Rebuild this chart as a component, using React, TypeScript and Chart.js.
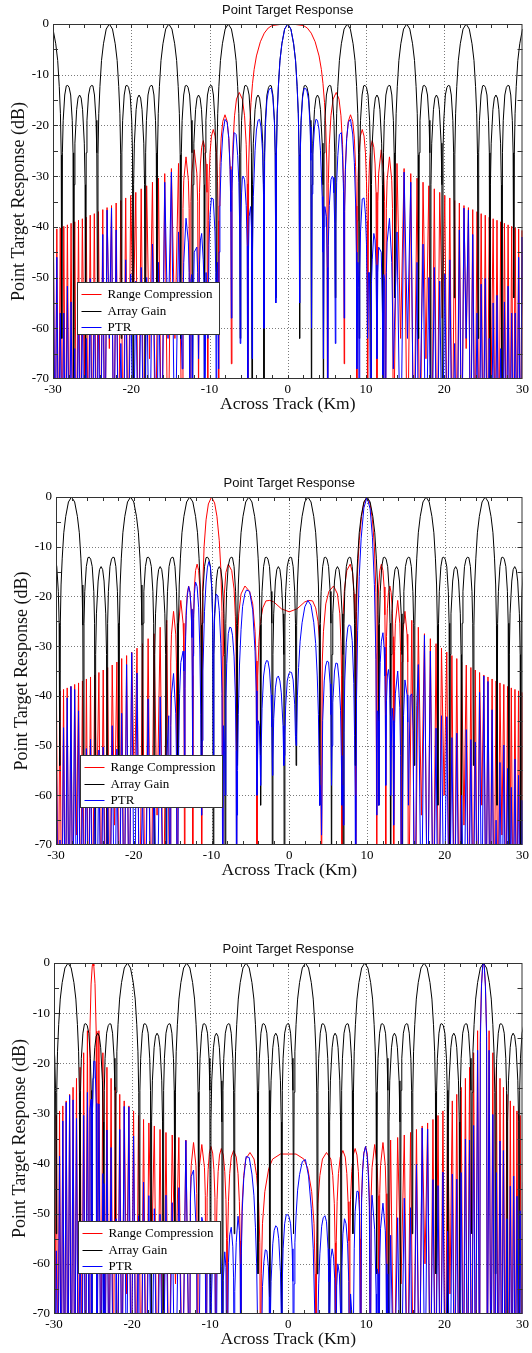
import React, { useEffect, useRef } from "react";
import { Chart, registerables } from "chart.js";

Chart.register(...registerables);

// ---------- text ----------
const chartTitle = "Point Target Response";
const xTitle = "Across Track (Km)";
const yTitle = "Point Target Response (dB)";
const seriesNames = ["Range Compression", "Array Gain", "PTR"];
const seriesColors = ["#ff0000", "#000000", "#0000ff"];

// ---------- axes ----------
const xTicks = [-30, -20, -10, 0, 10, 20, 30];
const yTicks = [0, -10, -20, -30, -40, -50, -60, -70];
const xGrid = [-20, -10, 0, 10, 20];
const yGrid = [-10, -20, -30, -40, -50, -60];
const xMinor = [-28, -26, -24, -22, -20, -18, -16, -14, -12, -10, -8, -6, -4, -2, 0, 2, 4, 6, 8, 10, 12, 14, 16, 18, 20, 22, 24, 26, 28];
const yMinor = [-5, -10, -15, -20, -25, -30, -35, -40, -45, -50, -55, -60, -65];

// deep null (below the axis floor)
const N = -90;

// ---------- Array Gain: one grating-lobe period (offset km, dB) ----------
const agPeriod = [
  [0, 0], [0.4, -1], [0.75, -3.9], [1.0, -7.2], [1.2, -12.3], [1.35, -17.7], [1.45, -25.8], [1.52, -62],
  [1.6, -25.4], [1.7, -19], [1.9, -14], [2.1, -12.2], [2.28, -12.1], [2.46, -12.5], [2.66, -14], [2.86, -19], [2.96, -25.4], [3.04, N],
  [3.1, -31.7], [3.2, -23.5], [3.42, -16.9], [3.6, -14.6], [3.8, -14], [4.0, -14.6], [4.18, -16.9], [4.4, -23.5], [4.5, -31.7], [4.56, N],
  [4.64, -25.4], [4.74, -19], [4.94, -14], [5.14, -12.5], [5.32, -12.1], [5.5, -12.2], [5.7, -14], [5.9, -19], [6.0, -25.4], [6.08, -54],
  [6.15, -25.8], [6.25, -17.7], [6.4, -12.3], [6.6, -7.2], [6.85, -3.9], [7.2, -1],
];
// grating-lobe peak positions (km) in each panel
const agLobes1 = [-38, -30.4, -22.8, -15.2, -7.6, 0, 7.6, 15.2, 22.8, 30.4];
const agLobes2 = [-35.6, -28, -20.4, -12.8, -5.2, 2.4, 10, 17.6, 25.2, 32.8];
const agLobes3 = [-35.8, -28.2, -20.6, -13, -5.4, 2.2, 9.8, 17.4, 25, 32.6];

// ---------- Panel 1: target at 0 km (symmetric, x >= 0 half) ----------
const rc1Half = [
  [0, 0], [1, -0.1], [2, -0.3], [2.5, -0.8], [3, -1.8], [3.5, -3.5], [4, -6.3], [4.3, -9], [4.5, -11.7], [4.7, -15.5], [4.85, -20], [5.0, -28], [5.1, N],
  [5.18, -31.5], [5.31, -23.7], [5.52, -18.1], [5.8, -14.8], [6.2, -13.5], [6.55, -14.8], [6.8, -18.1], [7.0, -23.7], [7.13, -31.5], [7.21, -67],
  [7.27, -35.9], [7.37, -28.1], [7.53, -22.5], [7.74, -19.2], [8.02, -17.9], [8.3, -19.2], [8.51, -22.5], [8.67, -28.1], [8.77, -35.9], [8.83, N],
  [8.88, -38.8], [8.97, -31], [9.1, -25.4], [9.28, -22.1], [9.52, -20.8], [9.75, -22.1], [9.93, -25.4], [10.06, -31], [10.15, -38.8], [10.2, N],
  [10.32, -33.2], [10.44, -27.6], [10.6, -24.3], [10.8, -23], [11.0, -24.3], [11.16, -27.6], [11.28, -33.2], [11.4, -75],
  [11.51, -35], [11.62, -29.4], [11.95, -24.8], [12.27, -29.4], [12.38, -35], [12.49, N],
  [12.6, -36.4], [12.7, -30.8], [13.0, -26.2], [13.29, -30.8], [13.39, -36.4], [13.49, N],
  [13.96, -27.5], [14.42, -62], [14.87, -28.5], [15.3, N], [15.72, -29.5], [16.12, N], [16.52, -30.4], [16.91, N],
  [17.29, -31.2], [17.66, -66], [18.03, -31.9], [18.38, N], [18.73, -32.5], [19.08, N], [19.42, -33.2], [19.75, -58],
  [20.07, -33.8], [20.4, N], [20.71, -34.3], [21.02, N], [21.33, -34.8], [21.63, N], [21.93, -35.3], [22.23, N],
  [22.52, -35.8], [22.8, -64], [23.09, -36.2], [23.37, N], [23.64, -36.6], [23.92, N], [24.19, -37], [24.45, N],
  [24.72, -37.4], [24.98, N], [25.24, -37.7], [25.5, N], [25.75, -38.1], [26.0, -70], [26.25, -38.4], [26.5, N],
  [26.74, -38.7], [26.98, N], [27.22, -39], [27.46, N], [27.69, -39.3], [27.93, N], [28.16, -39.6], [28.39, N],
  [28.62, -39.9], [28.84, N], [29.07, -40.2], [29.29, N], [29.51, -40.4], [29.73, N], [29.95, -40.7], [30.17, N], [30.38, -41],
];
const pt1Half = [
  [0, 0], [0.4, -1], [0.75, -3.9], [1.0, -7.3], [1.2, -12.4], [1.35, -17.8], [1.45, -26], [1.52, -55],
  [1.6, -25.8], [1.7, -19.5], [1.9, -14.5], [2.1, -12.7], [2.28, -12.7], [2.46, -13.2], [2.66, -15], [2.86, -20.3], [2.96, -26.9], [3.04, -60],
  [3.1, -33.5], [3.2, -25.7], [3.42, -20.3], [3.6, -18.8], [3.8, -19], [4.0, -20.9], [4.18, -25], [4.4, -34], [4.5, -45], [4.56, -66],
  [4.64, -40], [4.74, -36], [4.94, -38], [5.05, -48], [5.1, N], [5.18, -43.7], [5.31, -35.8], [5.52, -30.7], [5.7, -30], [5.8, -30.3], [5.9, -33.3], [6.0, -39.4], [6.08, -63],
  [6.15, -39.4], [6.25, -31.2], [6.4, -25.9], [6.6, -21.8], [6.85, -21.4], [7.0, -26], [7.13, -33], [7.21, -58],
  [7.27, -37], [7.37, -28.7], [7.53, -22.6], [7.74, -19.4], [8.02, -18.8], [8.3, -21.7], [8.51, -27.3], [8.67, -35.3], [8.77, -45], [8.83, -68],
  [8.97, -47], [9.07, -52], [9.12, N],
  [9.2, -49], [9.3, -41], [9.52, -34.5], [9.75, -34.3], [9.93, -37.5], [10.06, -43.4], [10.2, -62], [10.32, -49], [10.44, -49], [10.64, N],
  [10.7, -51], [10.8, -46.5], [11.0, -41.3], [11.16, -42.6], [11.28, -47.5], [11.4, -66], [11.51, -49], [11.62, -44], [11.95, -45], [12.1, -57], [12.16, -70],
  [12.27, -49.4], [12.38, -50.5], [12.49, N], [12.6, -49], [12.7, -43], [13.0, -38.3], [13.29, -47], [13.39, -56], [13.49, -68],
  [13.96, -41], [14.42, N], [14.87, -29.2], [15.3, -62], [15.72, -31.2], [16.12, N], [16.52, -47], [16.72, N],
  [17.29, -43.4], [17.66, N], [18.03, -50], [18.38, N], [18.73, -48], [19.08, N], [19.42, -50.7], [19.75, N],
  [20.07, -49.3], [20.4, N], [20.71, -46.5], [21.02, N], [21.33, -63], [21.63, N], [21.93, -40.6], [22.23, N],
  [22.52, -36.3], [22.8, -62], [23.09, -36.7], [23.37, N], [23.64, -41.5], [23.92, N], [24.19, -57], [24.45, N],
  [24.72, -51.3], [24.98, N], [25.24, -50.2], [25.5, N], [25.75, -62], [26.0, N], [26.25, -55], [26.5, N],
  [26.74, -53.5], [26.98, N], [27.22, -64], [27.46, N], [27.69, -54.8], [27.93, N], [28.16, -51.7], [28.39, N],
  [28.62, -57], [28.84, N], [29.07, -57], [29.29, N], [29.51, -46], [29.73, N], [29.95, -42], [30.17, -62], [30.38, -41],
];

// ---------- Panel 2: target at 10 km (range compression symmetric about 0) ----------
const rc2Half = [
  [0, -23.1], [1, -22.5], [2, -21.1], [2.5, -20.8], [3, -20.9], [3.4, -22.3], [3.7, -25], [3.9, -29], [4.05, -36], [4.15, N],
  [4.25, -33], [4.4, -27], [4.7, -21.5], [5.1, -19], [5.7, -17.9], [6.2, -19.5], [6.5, -23.5], [6.65, -29], [6.73, -36], [6.78, N],
  [6.84, -31], [6.93, -24], [7.1, -18.5], [7.4, -14.8], [7.84, -13.5], [8.15, -15.2], [8.35, -19.5], [8.45, -24.5], [8.51, -32], [8.54, N],
  [8.65, -23], [8.8, -14.5], [9.0, -8.8], [9.3, -3.9], [9.6, -1.2], [10, 0], [10.4, -1.4], [10.7, -4.6], [10.95, -9.9], [11.15, -19.2], [11.27, N],
  [11.32, -31.5], [11.38, -23.7], [11.5, -18.1], [11.65, -14.8], [11.85, -13.5], [12.05, -14.8], [12.2, -18.1], [12.3, -23.7], [12.36, -31.5], [12.41, N],
  [12.45, -35.9], [12.51, -28.1], [12.62, -22.5], [12.76, -19.2], [12.94, -17.9], [13.1, -19.2], [13.25, -22.5], [13.35, -28.1], [13.41, -35.9], [13.45, N],
  [13.55, -31], [13.65, -25.4], [13.95, -20.8], [14.22, -25.4], [14.32, -31], [14.42, N],
  [14.51, -33.2], [14.6, -27.6], [14.88, -23], [15.15, -27.6], [15.24, -33.2], [15.33, N],
  [15.76, -24.8], [16.19, N], [16.6, -26.2], [17.0, -64], [17.39, -27.5], [17.78, N], [18.15, -28.5], [18.52, N],
  [18.88, -29.5], [19.24, N], [19.58, -30.4], [19.92, -60], [20.26, -31.2], [20.59, N], [20.92, -31.9], [21.24, N],
  [21.55, -32.5], [21.86, N], [22.17, -33.2], [22.47, -66], [22.77, -33.8], [23.07, N], [23.36, -34.3], [23.64, N],
  [23.93, -34.8], [24.21, N], [24.48, -35.3], [24.76, -62], [25.03, -35.8], [25.3, N], [25.56, -36.2], [25.83, N],
  [26.09, -36.6], [26.34, N], [26.6, -37], [26.85, N], [27.1, -37.4], [27.35, -68], [27.6, -37.7], [27.84, N],
  [28.08, -38.1], [28.32, N], [28.56, -38.4], [28.79, N], [29.03, -38.7], [29.26, N], [29.49, -39], [29.72, N], [29.94, -39.3], [30.17, N], [30.39, -39.6],
];
const pt2Pos = [
  [0.12, -35.2], [0.3, -35.3], [0.5, -36.8], [0.7, -41.8], [0.8, -48.2], [0.88, -50],
  [0.95, -48], [1.05, -40], [1.2, -34.3], [1.4, -29], [1.65, -25.3], [2.0, -22.1], [2.4, -20.8], [2.8, -21.8], [3.15, -25.2], [3.4, -29.5], [3.6, -36], [3.75, -43.7], [3.85, -54], [3.92, -62],
  [3.98, -58], [4.1, -62], [4.15, -68], [4.3, -45], [4.5, -37], [4.68, -34], [4.86, -33], [5.06, -33.2], [5.26, -37.6], [5.36, -43.8], [5.44, -58],
  [5.5, -50], [5.6, -41.4], [5.82, -35], [6.0, -33.4], [6.2, -33.5], [6.4, -36.6], [6.6, -43], [6.7, -52], [6.78, -62], [6.9, -58], [6.96, -66],
  [7.04, -47.4], [7.14, -37], [7.34, -29.2], [7.54, -26.2], [7.72, -25.7], [7.9, -26], [8.1, -28.9], [8.3, -37.5], [8.4, -48], [8.48, -60],
  [8.54, N], [8.65, -40.7], [8.8, -26.8], [9.0, -16], [9.25, -8.3], [9.6, -2.2], [10, 0], [10.4, -2.4], [10.7, -8.1], [10.95, -17.6], [11.15, -32.7], [11.27, -64],
  [11.32, -48], [11.38, -43], [11.45, -45], [11.52, -62],
  [11.6, -41], [11.7, -33.3], [11.85, -29], [12.05, -27.3], [12.2, -30.2], [12.3, -36], [12.36, -43.8], [12.41, -58],
  [12.51, -41], [12.62, -36], [12.76, -34.7], [12.9, -37], [13.0, -44], [13.04, -60],
  [13.1, -51], [13.25, -42.5], [13.35, -45], [13.41, -52], [13.45, -66],
  [13.55, -45.6], [13.65, -39.6], [13.95, -35], [14.22, -42.4], [14.32, -52], [14.42, N],
  [14.6, -55.6], [14.7, -44], [14.88, -36.8], [15.15, -39.8], [15.24, -45.3], [15.33, -62],
  [15.55, -40], [15.76, -39.6], [15.95, -47], [16.08, N], [16.19, N],
  [16.4, -42], [16.6, -33.7], [17.0, N], [17.39, -27.8], [17.78, N], [18.15, -31], [18.52, N], [18.88, -46.5], [19.12, N],
  [19.24, N], [19.58, -44], [19.92, N], [20.26, -44.2], [20.59, N], [20.92, -48.4], [21.24, N], [21.55, -47.5], [21.86, N],
  [22.17, -60], [22.47, N], [22.77, -46.8], [23.07, N], [23.36, -48.8], [23.64, N], [23.93, -49.3], [24.21, N],
  [24.48, -39.3], [24.76, N], [25.03, -36], [25.3, N], [25.56, -37.1], [25.83, N], [26.09, -42.8], [26.34, N],
  [26.6, -65], [26.85, N], [27.1, -53.4], [27.35, N], [27.6, -49.9], [27.84, N], [28.08, -54.6], [28.32, N],
  [28.56, -58.4], [28.79, N], [29.03, -52.7], [29.26, N], [29.49, -56], [29.72, N], [29.94, -61], [30.17, N], [30.39, -60],
];
const pt2Neg = [
  [-0.06, -35.6], [-0.26, -37], [-0.46, -42], [-0.56, -48], [-0.64, -52],
  [-0.7, -54], [-0.8, -46], [-1.02, -39.4], [-1.2, -37], [-1.4, -36], [-1.6, -36.4], [-1.78, -38.4], [-2.0, -44.6], [-2.1, -52.7], [-2.16, -56],
  [-2.24, -46.3], [-2.34, -39.8], [-2.54, -34.8], [-2.74, -33], [-2.92, -32.9], [-3.1, -33.7], [-3.3, -36], [-3.5, -42.5], [-3.6, -50.4], [-3.68, -58],
  [-3.75, -52], [-3.85, -46], [-4.0, -45], [-4.15, -60], [-4.25, -39], [-4.4, -31], [-4.7, -22.7], [-5.1, -19], [-5.5, -18.7], [-5.7, -19.4],
  [-6.0, -22], [-6.2, -26.7], [-6.4, -33.8], [-6.55, -43.7], [-6.65, -55], [-6.72, -64],
  [-6.78, N], [-6.84, -51], [-6.93, -40], [-7.1, -32], [-7.3, -27.8], [-7.48, -26.3], [-7.66, -26.2], [-7.84, -27.5], [-8.04, -33.5], [-8.15, -40.6], [-8.24, -60],
  [-8.3, -51], [-8.45, -46], [-8.54, N], [-8.65, -39.5], [-8.8, -29.5], [-9.0, -22.8], [-9.2, -19.9], [-9.4, -19.5], [-9.6, -24.2], [-9.7, -31.6], [-9.76, -52],
  [-9.84, -25.5], [-9.94, -19], [-10.14, -14.1], [-10.34, -13], [-10.52, -14.1], [-10.7, -17.1], [-10.9, -23], [-11.1, -35], [-11.2, -49], [-11.27, -64],
  [-11.32, -60], [-11.38, -43.7], [-11.5, -30.6], [-11.65, -22.3], [-11.85, -18], [-12.05, -17.1], [-12.2, -19.4], [-12.3, -24.5], [-12.36, -32], [-12.41, -56],
  [-12.51, -28.3], [-12.62, -22.6], [-12.76, -19.2], [-12.94, -18], [-13.1, -19.7], [-13.25, -23.8], [-13.35, -30], [-13.41, -38.5], [-13.45, -62],
  [-13.55, -35], [-13.65, -31], [-13.95, -33.3], [-14.1, -39.5], [-14.22, -50.4], [-14.32, N],
  [-14.42, N], [-14.51, -52], [-14.6, -43.6], [-14.88, -35.5], [-15.15, -39.8], [-15.24, -46], [-15.33, N],
  [-15.5, -44], [-15.76, -52.8], [-15.84, N], [-16.19, N], [-16.6, -40.2], [-17.0, N], [-17.39, -57], [-17.78, N],
  [-18.15, -40.6], [-18.52, N], [-18.88, -60], [-19.24, N], [-19.58, -35.4], [-19.92, N], [-20.26, -31.3], [-20.59, N],
  [-20.92, -33.7], [-21.24, N], [-21.55, -43.5], [-21.86, N], [-22.17, -50.7], [-22.47, N], [-22.77, -46], [-23.07, N],
  [-23.36, -59], [-23.64, N], [-23.93, -50.3], [-24.21, N], [-24.48, -50.9], [-24.76, N], [-25.03, -60.8], [-25.3, N],
  [-25.56, -48.7], [-25.83, N], [-26.09, -50.6], [-26.34, N], [-26.6, -57], [-26.85, N], [-27.1, -43], [-27.35, N],
  [-27.6, -38.7], [-27.84, N], [-28.08, -38.1], [-28.32, N], [-28.56, -40.4], [-28.79, N], [-29.03, -46.4], [-29.26, N],
  [-29.49, -69], [-29.72, N], [-29.94, -52.8], [-30.17, N],
];

// ---------- Panel 3: target at 25 km (range compression symmetric about 0) ----------
const rc3Half = [
  [0, -38.1], [1, -38.1], [2, -39.1], [2.5, -41], [3, -45.6], [3.3, -52], [3.45, -62], [3.54, N],
  [3.64, -55.8], [3.79, -48], [4.05, -42.4], [4.38, -39.1], [4.9, -37.8], [5.45, -39.1], [5.7, -42.4], [5.9, -48], [6.0, -55.8], [6.08, N],
  [6.15, -55.4], [6.26, -47.6], [6.43, -42], [6.66, -38.7], [7.0, -37.4], [7.3, -38.7], [7.5, -42], [7.66, -47.6], [7.77, -55.4], [7.84, N],
  [7.9, -55], [7.98, -47.2], [8.13, -41.6], [8.32, -38.3], [8.57, -37], [8.8, -38.3], [8.98, -41.6], [9.12, -47.2], [9.21, -55], [9.27, N],
  [9.39, -46.8], [9.52, -41.2], [9.68, -37.9], [9.9, -36.6], [10.1, -37.9], [10.26, -41.2], [10.39, -46.8], [10.51, N],
  [10.62, -46.4], [10.73, -40.8], [11.07, -36.2], [11.4, -40.8], [11.51, -46.4], [11.62, N],
  [11.72, -46], [11.82, -40.4], [12.13, -35.8], [12.43, -40.4], [12.53, -46], [12.63, N],
  [13.11, -35.3], [13.56, N], [14.01, -34.8], [14.44, -64], [14.86, -34.3], [15.26, N], [15.66, -33.8], [16.05, N],
  [16.42, -33.2], [16.79, N], [17.15, -32.5], [17.51, -60], [17.85, -31.9], [18.19, N], [18.53, -31.2], [18.85, N],
  [19.18, -30.4], [19.49, N], [19.81, -29.5], [20.11, N], [20.41, -28.5], [20.71, -66], [21.01, -27.5], [21.3, N],
  [21.58, -26.2], [21.86, N], [22.14, -24.8], [22.42, N], [22.69, -23], [22.96, N], [23.22, -20.8], [23.48, N],
  [23.74, -17.9], [24.0, N], [24.25, -13.5], [24.51, N],
  [24.6, -13.6], [24.75, -4.05], [24.9, -0.6], [25, 0], [25.1, -0.6], [25.25, -4.2], [25.4, -13.7], [25.49, N],
  [25.72, -13.5], [25.96, N], [26.2, -17.9], [26.43, N], [26.66, -20.8], [26.89, N], [27.12, -23], [27.34, N],
  [27.56, -24.8], [27.78, N], [28.0, -26.2], [28.22, N], [28.44, -27.5], [28.65, N], [28.87, -28.5], [29.08, N],
  [29.29, -29.5], [29.5, N], [29.7, -30.4], [29.91, N], [30.11, -31.2], [30.31, N],
];
const pt3Pos = [
  [0.1, -50.6], [0.3, -52], [0.5, -57], [0.6, -63.5], [0.68, N],
  [0.75, -64], [0.85, -55.8], [1.0, -50.4], [1.2, -45.3], [1.45, -42.2], [1.8, -39.6], [2.2, -39.2], [2.6, -42.5], [2.95, -48.9], [3.2, -57], [3.4, -70], [3.54, N],
  [3.72, N], [3.79, -72], [3.9, -64], [4.05, -58], [4.28, -52.5], [4.48, -50.8], [4.7, -50.4], [4.9, -51.6], [5.1, -57], [5.2, -63.6], [5.24, N],
  [5.3, -72], [5.45, -59], [5.62, -57], [5.8, -58.6], [5.95, -63], [6.08, N], [6.2, -64.4], [6.35, -60], [6.55, -62], [6.7, -70], [6.76, N],
  [6.85, -61], [7.0, -54], [7.2, -51], [7.4, -52], [7.6, -56], [7.75, -63.5], [7.84, N], [7.98, -66], [8.13, -69.6], [8.28, N],
  [8.35, -72], [8.45, -57], [8.57, -49.5], [8.8, -45.5], [8.98, -45.6], [9.12, -49.5], [9.27, N], [9.39, -47.7], [9.52, -41.7], [9.68, -38],
  [9.9, -36.6], [10.1, -38.4], [10.26, -42.4], [10.39, -48.8], [10.51, N], [10.62, -50.4], [10.73, -46.3], [11.07, -53.2], [11.25, -66], [11.32, N],
  [11.4, -61], [11.51, -62], [11.62, N], [11.72, -59], [11.82, -53], [12.13, -47.9], [12.43, -53.4], [12.53, -60], [12.63, N], [12.75, -62], [12.84, N],
  [13.11, -54.3], [13.56, N], [14.01, -50.8], [14.36, N], [14.44, N], [14.86, -46.9], [15.26, N], [15.66, -48.8], [15.88, N], [16.05, N],
  [16.42, -40.2], [16.79, N], [17.15, -32.9], [17.51, N], [17.85, -33.1], [18.19, N], [18.53, -43.2], [18.85, N], [18.92, N],
  [19.18, -44.4], [19.49, N], [19.81, -41.7], [20.11, N], [20.41, -53.5], [20.71, N], [21.01, -42.1], [21.3, N],
  [21.58, -43.1], [21.86, N], [22.14, -41.8], [22.42, N], [22.69, -35.1], [22.96, N], [23.22, -35.3], [23.48, N],
  [23.74, -32.4], [24.0, N], [24.25, -17.4], [24.51, N], [24.6, -15.9], [24.75, -4.6], [24.9, -0.6], [25, 0], [25.1, -0.6], [25.25, -4.7], [25.4, -14.7], [25.49, N],
  [25.72, -17.4], [25.96, N], [26.2, -30.2], [26.43, N], [26.66, -41.8], [26.89, N], [27.12, -35.5], [27.34, N],
  [27.56, -37.4], [27.78, N], [28.0, -51], [28.22, N], [28.44, -44.5], [28.65, N], [28.87, -42.5], [29.08, N],
  [29.29, -46.5], [29.5, N], [29.7, -49.4], [29.91, N], [30.11, -43.7], [30.31, N],
];
const pt3Neg = [
  [-0.08, -50.2], [-0.26, -50.2], [-0.46, -52], [-0.66, -57], [-0.76, -63.5], [-0.84, N],
  [-0.9, -70], [-1.0, -61.6], [-1.22, -55], [-1.4, -52.8], [-1.6, -52.4], [-1.8, -53.3], [-1.98, -56], [-2.2, -63.5], [-2.3, -72], [-2.36, N],
  [-2.44, -66.6], [-2.54, -60.6], [-2.74, -57.4], [-2.94, -57.2], [-3.12, -59.6], [-3.3, -64.5], [-3.54, N], [-3.64, -75], [-3.75, -75], [-3.88, N],
  [-3.95, -70], [-4.05, -60], [-4.2, -52.8], [-4.4, -46.3], [-4.65, -42.1], [-5.0, -38.8], [-5.4, -38.6], [-5.7, -43], [-5.9, -49.6], [-6.0, -58], [-6.08, N],
  [-6.15, -60], [-6.26, -53.4], [-6.43, -50.5], [-6.66, -55.7], [-6.85, -65.5], [-6.92, N],
  [-7.0, -62.8], [-7.1, -56.6], [-7.3, -52.7], [-7.5, -54.2], [-7.66, -59.7], [-7.84, N], [-7.98, -60.7], [-8.13, -57.6], [-8.32, -63.3], [-8.44, N],
  [-8.57, -60.5], [-8.8, -54.3], [-8.98, -56], [-9.12, -61.2], [-9.27, N], [-9.39, -61.2], [-9.52, -57.2], [-9.68, -58], [-9.85, -67.7], [-9.96, N],
  [-10.05, -59.5], [-10.26, -55], [-10.39, -59.4], [-10.51, N], [-10.62, -58.6], [-10.73, -52.9], [-11.07, -50.7], [-11.3, -58.5], [-11.48, N],
  [-11.55, -72], [-11.62, N], [-11.72, -62], [-11.82, -52.4], [-12.13, -41.3], [-12.43, -42.6], [-12.53, -47.5], [-12.63, N],
  [-13.11, -35.4], [-13.56, N], [-14.01, -44.8], [-14.44, N], [-14.52, N],
  [-14.86, -47.8], [-15.26, N], [-15.66, -46.3], [-16.04, N], [-16.42, -50.1], [-16.79, N], [-17.15, -49], [-17.51, N],
  [-17.85, -46.4], [-18.19, N], [-18.53, -43.7], [-18.85, N], [-19.08, N],
  [-19.18, -50.4], [-19.49, N], [-19.81, -34.5], [-20.11, N], [-20.41, -28.7], [-20.71, N], [-21.01, -28.6], [-21.3, N],
  [-21.58, -33.2], [-21.86, N], [-22.05, -51], [-22.12, N],
  [-22.42, N], [-22.69, -36.8], [-22.96, N], [-23.22, -33.3], [-23.48, N], [-23.6, -44], [-23.64, N], [-23.74, -42], [-24.0, N],
  [-24.25, -28.1], [-24.51, N], [-24.6, -28], [-24.75, -19.6], [-24.9, -19.6], [-25.0, -23], [-25.1, -32.3], [-25.16, N],
  [-25.25, -27.2], [-25.4, -29.2], [-25.49, N], [-25.72, -25.8], [-25.96, N], [-26.2, -30.4], [-26.43, N], [-26.66, -55], [-26.89, N],
  [-27.12, -31], [-27.34, N], [-27.56, -27.3], [-27.78, N], [-28.0, -26.4], [-28.22, N], [-28.44, -27.8], [-28.65, N],
  [-28.87, -31.5], [-29.08, N], [-29.29, -38.5], [-29.5, N], [-29.7, -57.4], [-29.91, N], [-30.11, -56],
];

// ---------- helpers that assemble tables for the library ----------
type P = number[];
const mirror = (half: P[]) => [
  ...half.filter((p) => p[0] > 0).map((p) => [-p[0], p[1]]).reverse(),
  ...half,
];
const joinSorted = (a: P[], b: P[]) => [...a, ...b].sort((p, q) => p[0] - q[0]);
const placeLobes = (lobes: number[]) => {
  const out: P[] = [];
  lobes.forEach((c) => agPeriod.forEach((p) => out.push([c + p[0], p[1]])));
  return out;
};

const panels = [
  { top: 0, height: 470, left: 53, right: 526, areaTop: 24, bottom: 379,
    rc: mirror(rc1Half), ag: placeLobes(agLobes1), pt: mirror(pt1Half) },
  { top: 470, height: 470, left: 56, right: 523, areaTop: 27, bottom: 375,
    rc: mirror(rc2Half), ag: placeLobes(agLobes2), pt: joinSorted(pt2Neg, pt2Pos) },
  { top: 940, height: 413, left: 54, right: 524, areaTop: 23, bottom: 374,
    rc: mirror(rc3Half), ag: placeLobes(agLobes3), pt: joinSorted(pt3Neg, pt3Pos) },
];

const SERIF = '"Liberation Serif", "Times New Roman", serif';
const SANS = '"Liberation Sans", Arial, sans-serif';

const decorPlugin = {
  id: "decor",
  beforeDatasetsDraw(chart: any) {
    const { ctx, chartArea: a, scales } = chart;
    ctx.save();
    ctx.strokeStyle = "#7a7a7a";
    ctx.lineWidth = 1;
    ctx.setLineDash([1, 2]);
    ctx.beginPath();
    xGrid.forEach((v) => {
      const px = Math.round(scales.x.getPixelForValue(v)) + 0.5;
      ctx.moveTo(px, a.top);
      ctx.lineTo(px, a.bottom);
    });
    yGrid.forEach((v) => {
      const py = Math.round(scales.y.getPixelForValue(v)) + 0.5;
      ctx.moveTo(a.left, py);
      ctx.lineTo(a.right, py);
    });
    ctx.stroke();
    ctx.restore();
  },
  afterDatasetsDraw(chart: any) {
    const { ctx, chartArea: a, scales } = chart;
    ctx.save();
    // frame
    ctx.strokeStyle = "#333";
    ctx.lineWidth = 1;
    ctx.setLineDash([]);
    ctx.strokeRect(a.left + 0.5, a.top + 0.5, a.right - a.left - 1, a.bottom - a.top - 1);
    // inward tick marks
    ctx.beginPath();
    xMinor.forEach((v) => {
      const px = Math.round(scales.x.getPixelForValue(v)) + 0.5;
      ctx.moveTo(px, a.top); ctx.lineTo(px, a.top + 4);
      ctx.moveTo(px, a.bottom); ctx.lineTo(px, a.bottom - 4);
    });
    yMinor.forEach((v) => {
      const py = Math.round(scales.y.getPixelForValue(v)) + 0.5;
      ctx.moveTo(a.left, py); ctx.lineTo(a.left + 5, py);
      ctx.moveTo(a.right, py); ctx.lineTo(a.right - 5, py);
    });
    ctx.stroke();
    // legend
    const bx = Math.round(a.left + 24) + 0.5;
    const by = Math.round(a.top + 258) + 0.5;
    ctx.fillStyle = "#fff";
    ctx.fillRect(bx, by, 142, 52);
    ctx.strokeStyle = "#333";
    ctx.strokeRect(bx, by, 142, 52);
    const rows = [11, 28, 44];
    ctx.font = `13px ${SERIF}`;
    ctx.textAlign = "left";
    ctx.textBaseline = "middle";
    seriesNames.forEach((name, i) => {
      const yy = Math.round(by + rows[i]) + 0.5;
      ctx.beginPath();
      ctx.strokeStyle = seriesColors[i];
      ctx.lineWidth = 1;
      ctx.moveTo(bx + 4, yy);
      ctx.lineTo(bx + 24, yy);
      ctx.stroke();
      ctx.fillStyle = "#000";
      ctx.fillText(name, bx + 30, yy + 0.5);
    });
    // titles
    const cx = (a.left + a.right) / 2;
    ctx.fillStyle = "#111";
    ctx.textAlign = "center";
    ctx.textBaseline = "middle";
    ctx.font = `13px ${SANS}`;
    ctx.fillText(chartTitle, cx, a.top - 14);
    ctx.font = `17.5px ${SERIF}`;
    ctx.fillText(xTitle, cx, a.bottom + 25);
    ctx.translate(a.left - 34, (a.top + a.bottom) / 2);
    ctx.rotate(-Math.PI / 2);
    ctx.font = `18px ${SERIF}`;
    ctx.fillText(yTitle, 0, 0);
    ctx.restore();
  },
};

function Panel({ cfg }: { cfg: any }) {
  const ref = useRef<HTMLCanvasElement | null>(null);
  useEffect(() => {
    if (!ref.current) return;
    const toXY = (arr: P[]) => arr.map((p) => ({ x: p[0], y: p[1] }));
    const series = [cfg.rc, cfg.ag, cfg.pt];
    const chart = new Chart(ref.current, {
      type: "line",
      data: {
        datasets: series.map((s: P[], i: number) => ({
          label: seriesNames[i],
          data: toXY(s),
          borderColor: seriesColors[i],
          backgroundColor: seriesColors[i],
          borderWidth: 1,
          pointRadius: 0,
          tension: 0,
          fill: false,
          order: 3 - i,
        })),
      },
      options: {
        animation: false,
        responsive: false,
        maintainAspectRatio: false,
        events: [],
        layout: { padding: { left: 0, right: 532 - cfg.right, top: cfg.areaTop, bottom: 0 } },
        plugins: { legend: { display: false }, title: { display: false }, tooltip: { enabled: false } },
        scales: {
          x: {
            type: "linear",
            min: -30,
            max: 30,
            grid: { display: false, drawTicks: false },
            border: { display: false },
            afterBuildTicks: (s: any) => { s.ticks = xTicks.map((v) => ({ value: v })); },
            afterFit: (s: any) => { s.height = cfg.height - cfg.bottom; },
            ticks: {
              autoSkip: false,
              maxRotation: 0,
              padding: 3,
              color: "#000",
              font: { family: SERIF, size: 13 },
              callback: (v: any) => String(v),
            },
          },
          y: {
            type: "linear",
            min: -70,
            max: 0,
            grid: { display: false, drawTicks: false },
            border: { display: false },
            afterBuildTicks: (s: any) => { s.ticks = yTicks.map((v) => ({ value: v })); },
            afterFit: (s: any) => { s.width = cfg.left; },
            ticks: {
              autoSkip: false,
              padding: 4,
              color: "#000",
              font: { family: SERIF, size: 13 },
              callback: (v: any) => String(v),
            },
          },
        },
      },
      plugins: [decorPlugin],
    } as any);
    return () => chart.destroy();
  }, []);
  return (
    <canvas
      ref={ref}
      width={532}
      height={cfg.height}
      style={{ position: "absolute", left: 0, top: cfg.top, display: "block" }}
    />
  );
}

export default function App() {
  return (
    <div style={{ position: "absolute", left: 0, top: 0, width: 532, height: 1353, background: "#fff" }}>
      {panels.map((cfg, i) => (
        <Panel key={i} cfg={cfg} />
      ))}
    </div>
  );
}
